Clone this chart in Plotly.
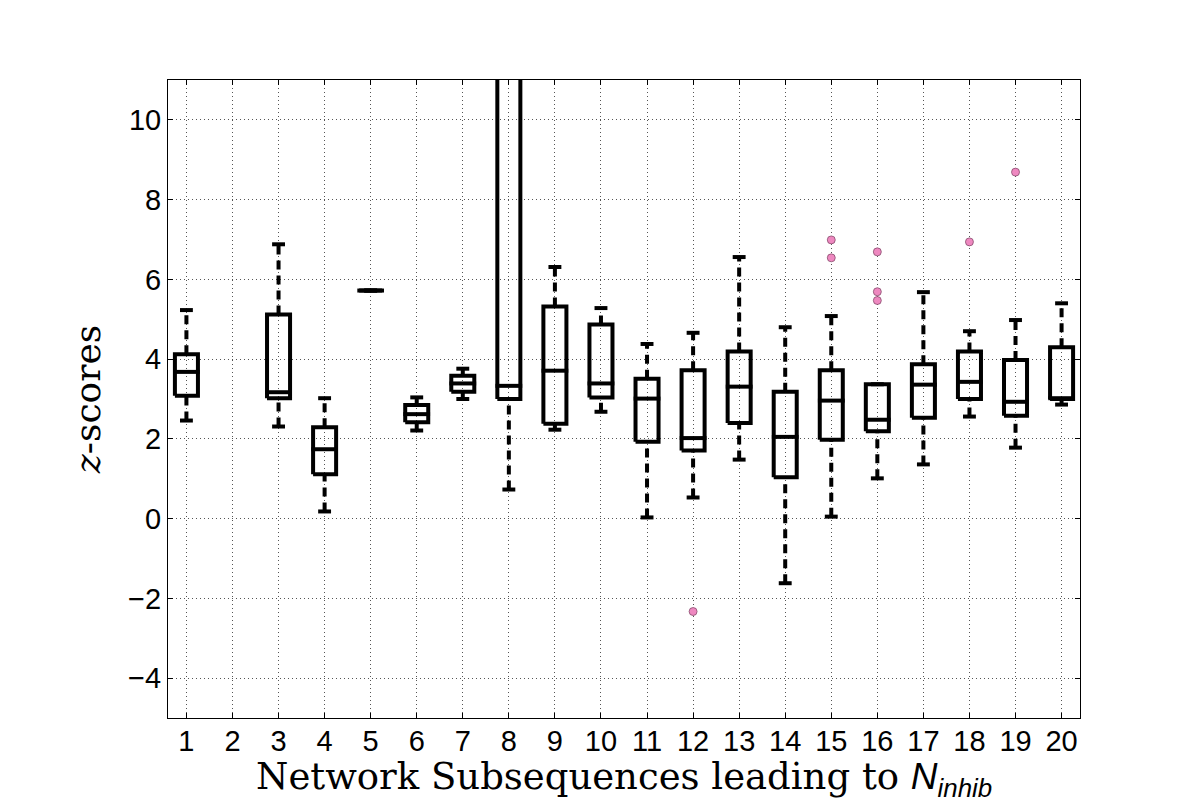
import plotly.graph_objects as go

categories = list(range(1, 21))
tick_labels = [str(c) for c in categories]
# per-category box statistics (None = no data)
lower_whisker = [2.46, None, 2.31, 0.18, 5.72, 2.21, 3.00, 0.73, 2.23, 2.68,
                 0.03, 0.53, 1.48, -1.62, 0.05, 1.01, 1.36, 2.56, 1.78, 2.86]
q1 = [3.08, None, 3.02, 1.11, 5.72, 2.42, 3.18, 3.00, 2.38, 3.04,
      1.93, 1.71, 2.40, 1.04, 1.98, 2.19, 2.53, 3.00, 2.58, 3.00]
median = [3.68, None, 3.17, 1.74, 5.72, 2.62, 3.39, 3.33, 3.71, 3.39,
          3.01, 2.02, 3.31, 2.05, 2.96, 2.48, 3.36, 3.43, 2.93, 3.02]
q3 = [4.12, None, 5.12, 2.29, 5.72, 2.85, 3.58, 14.0, 5.32, 4.87,
      3.51, 3.72, 4.19, 3.18, 3.72, 3.37, 3.87, 4.19, 3.98, 4.30]
upper_whisker = [5.23, None, 6.88, 3.02, 5.72, 3.04, 3.76, 18.0, 6.31, 5.28,
                 4.38, 4.66, 6.56, 4.80, 5.08, 3.37, 5.68, 4.70, 4.98, 5.40]
outlier_x = [12, 15, 15, 16, 16, 16, 18, 19]
outlier_y = [-2.33, 6.99, 6.54, 6.69, 5.69, 5.47, 6.94, 8.69]

BOX_HALF = 0.25
MED_HALF = 0.29
CAP_HALF = 0.14

bx, by, mx, my, wx, wy, cx, cy = [], [], [], [], [], [], [], []
for c, lo, a, m, b, hi in zip(categories, lower_whisker, q1, median, q3, upper_whisker):
    if m is None:
        continue
    bx += [c - BOX_HALF, c + BOX_HALF, c + BOX_HALF, c - BOX_HALF, c - BOX_HALF, None]
    by += [a, a, b, b, a, None]
    mx += [c - MED_HALF, c + MED_HALF, None]
    my += [m, m, None]
    wx += [c, c, None, c, c, None]
    wy += [lo, a, None, b, hi, None]
    cx += [c - CAP_HALF, c + CAP_HALF, None, c - CAP_HALF, c + CAP_HALF, None]
    cy += [lo, lo, None, hi, hi, None]

fig = go.Figure()
fig.add_trace(go.Scatter(x=wx, y=wy, mode="lines", line=dict(color="black", width=4, dash="9px,6px"),
                         hoverinfo="skip", showlegend=False))
fig.add_trace(go.Scatter(x=cx, y=cy, mode="lines", line=dict(color="black", width=4),
                         hoverinfo="skip", showlegend=False))
fig.add_trace(go.Scatter(x=bx, y=by, mode="lines", line=dict(color="black", width=4),
                         hoverinfo="skip", showlegend=False))
fig.add_trace(go.Scatter(x=mx, y=my, mode="lines", line=dict(color="black", width=4),
                         hoverinfo="skip", showlegend=False))
fig.add_trace(go.Scatter(x=outlier_x, y=outlier_y, mode="markers",
                         marker=dict(color="#ee88c0", size=8, line=dict(color="#7a4060", width=0.7)),
                         showlegend=False))

axis_common = dict(showline=True, linecolor="black", linewidth=1, mirror="allticks",
                   ticks="inside", ticklen=5, tickcolor="black",
                   showgrid=True, gridcolor="#555555", gridwidth=1, griddash="1px,3px",
                   zeroline=False)

x_title = "Network Subsequences leading to <i><span style='font-family:Liberation Sans'>N<sub>inhib</sub></span></i>"

fig.update_layout(
    width=1200, height=800, plot_bgcolor="white", paper_bgcolor="white",
    margin=dict(l=160, r=128, t=72, b=90),
    xaxis=dict(range=[0.6, 20.4], tickmode="array", tickvals=categories, ticktext=tick_labels,
               tickfont=dict(family="Liberation Sans", size=29, color="black"),
               ticklabelstandoff=-3,
               **axis_common),
    yaxis=dict(range=[-5, 11], tickmode="array", tickvals=[-4, -2, 0, 2, 4, 6, 8, 10],
               ticktext=["\u22124", "\u22122", "0", "2", "4", "6", "8", "10"],
               tickfont=dict(family="Liberation Sans", size=29, color="black"),
               title=dict(text="<i>z</i>-scores", font=dict(family="DejaVu Serif", size=36, color="black"),
                          standoff=16),
               **axis_common),
    annotations=[dict(text=x_title, xref="paper", yref="paper", x=0.5, y=-0.056,
                      xanchor="center", yanchor="top", showarrow=False, borderpad=0,
                      font=dict(family="DejaVu Serif", size=37, color="black"))],
)

fig.write_html("out.html")
